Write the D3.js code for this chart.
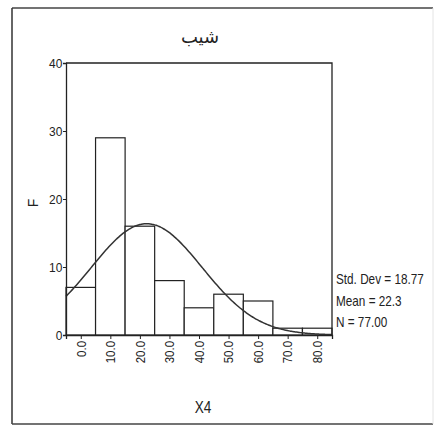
<!DOCTYPE html>
<html>
<head>
<meta charset="utf-8">
<script src="https://cdn.jsdelivr.net/npm/d3@7"></script>
<style>
  html, body { margin: 0; padding: 0; background: #fff; }
  svg { display: block; }
</style>
</head>
<body>
<svg id="chart" width="435" height="427"></svg>
<script>
// ---- data ----
const title = "شيب";
const xLabel = "X4";
const yLabel = "F";
const binCenters = [0, 10, 20, 30, 40, 50, 60, 70, 80];
const binLabels = ["0.0", "10.0", "20.0", "30.0", "40.0", "50.0", "60.0", "70.0", "80.0"];
const counts = [7, 29, 16, 8, 4, 6, 5, 1, 1];
const yTicks = [0, 10, 20, 30, 40];
const statLines = ["Std. Dev = 18.77", "Mean = 22.3", "N = 77.00"];
const statMean = 22.3;
const statSd = 18.77;
const statN = 77;
const binWidth = 10;

// ---- layout ----
const svg = d3.select("#chart");
const ink = "#222";
const fontReg = "'Liberation Sans', Arial, sans-serif";

const x = d3.scaleLinear().domain([-5, 85]).range([66, 332]);
const y = d3.scaleLinear().domain([0, 40]).range([335, 63]);

// outer frame
const frame = svg.append("g").attr("fill", "none");
frame.append("line").attr("x1", 12).attr("y1", 8).attr("x2", 433).attr("y2", 8).attr("stroke", "#444").attr("stroke-width", 1.5);
frame.append("line").attr("x1", 12).attr("y1", 8).attr("x2", 12).attr("y2", 424).attr("stroke", "#333").attr("stroke-width", 1.5);
frame.append("line").attr("x1", 12).attr("y1", 424).attr("x2", 433).attr("y2", 424).attr("stroke", "#444").attr("stroke-width", 1.5);
frame.append("line").attr("x1", 433).attr("y1", 8).attr("x2", 433).attr("y2", 424).attr("stroke", "#e4e4e4").attr("stroke-width", 1);

// title
svg.append("text").attr("x", 200).attr("y", 43).attr("text-anchor", "middle")
  .attr("font-family", "'DejaVu Sans', 'Noto Sans', sans-serif").attr("font-size", 18).attr("fill", ink)
  .text(title);

// bars
svg.append("g").selectAll("rect").data(counts).join("rect")
  .attr("x", (d, i) => x(binCenters[i] - binWidth / 2))
  .attr("y", d => y(d))
  .attr("width", (d, i) => x(binCenters[i] + binWidth / 2) - x(binCenters[i] - binWidth / 2))
  .attr("height", d => y(0) - y(d))
  .attr("fill", "#fff").attr("stroke", ink).attr("stroke-width", 1.2);

// normal curve from the displayed statistics
const pdf = v => statN * binWidth / (statSd * Math.sqrt(2 * Math.PI)) * Math.exp(-0.5 * Math.pow((v - statMean) / statSd, 2));
const curveXs = d3.range(-5, 85.01, 0.5);
svg.append("path").datum(curveXs)
  .attr("d", d3.line().x(v => x(v)).y(v => y(pdf(v))).curve(d3.curveBasis))
  .attr("fill", "none").attr("stroke", "#333").attr("stroke-width", 1.5);

// plot box (top + right)
svg.append("path")
  .attr("d", `M${x(-5)},${y(40)}H${x(85)}V${y(0)}`)
  .attr("fill", "none").attr("stroke", ink).attr("stroke-width", 1.3);

// y axis
const yAxis = d3.axisLeft(y).tickValues(yTicks).tickSize(3).tickPadding(1).tickFormat(d3.format("d"));
const gy = svg.append("g").attr("transform", `translate(${x(-5)},0)`).call(yAxis);
gy.select(".domain").attr("stroke", ink).attr("stroke-width", 1.3);
gy.selectAll(".tick line").attr("stroke", ink);
gy.selectAll(".tick text").attr("font-family", fontReg).attr("font-size", 13).attr("fill", ink)
  .attr("transform", "scale(0.92,1)");

// x axis
const xAxis = d3.axisBottom(x).tickValues(binCenters).tickSize(4).tickFormat((d, i) => binLabels[i]);
const gx = svg.append("g").attr("transform", `translate(0,${y(0)})`).call(xAxis);
gx.select(".domain").attr("stroke", ink).attr("stroke-width", 1.3);
gx.selectAll(".tick line").attr("stroke", ink);
gx.selectAll(".tick text")
  .attr("font-family", fontReg).attr("font-size", 13).attr("fill", ink)
  .attr("text-anchor", "end").attr("dy", null).attr("y", 0)
  .attr("transform", "translate(0,6) rotate(-90) scale(0.88,1)")
  .attr("dominant-baseline", "central");

// axis titles
svg.append("text").attr("transform", "translate(33,203) rotate(-90)")
  .attr("text-anchor", "middle").attr("dominant-baseline", "central")
  .attr("font-family", fontReg).attr("font-size", 14).attr("fill", ink).text(yLabel);
svg.append("text").attr("transform", "translate(203,413) scale(0.85,1)").attr("text-anchor", "middle")
  .attr("font-family", fontReg).attr("font-size", 16).attr("fill", ink).text(xLabel);

// stats (condensed look)
svg.append("g").selectAll("text").data(statLines).join("text")
  .attr("transform", (d, i) => `translate(336,${284 + i * 21.5}) scale(0.84,1)`)
  .attr("font-family", fontReg).attr("font-size", 14).attr("fill", ink)
  .text(d => d);
</script>
</body>
</html>
